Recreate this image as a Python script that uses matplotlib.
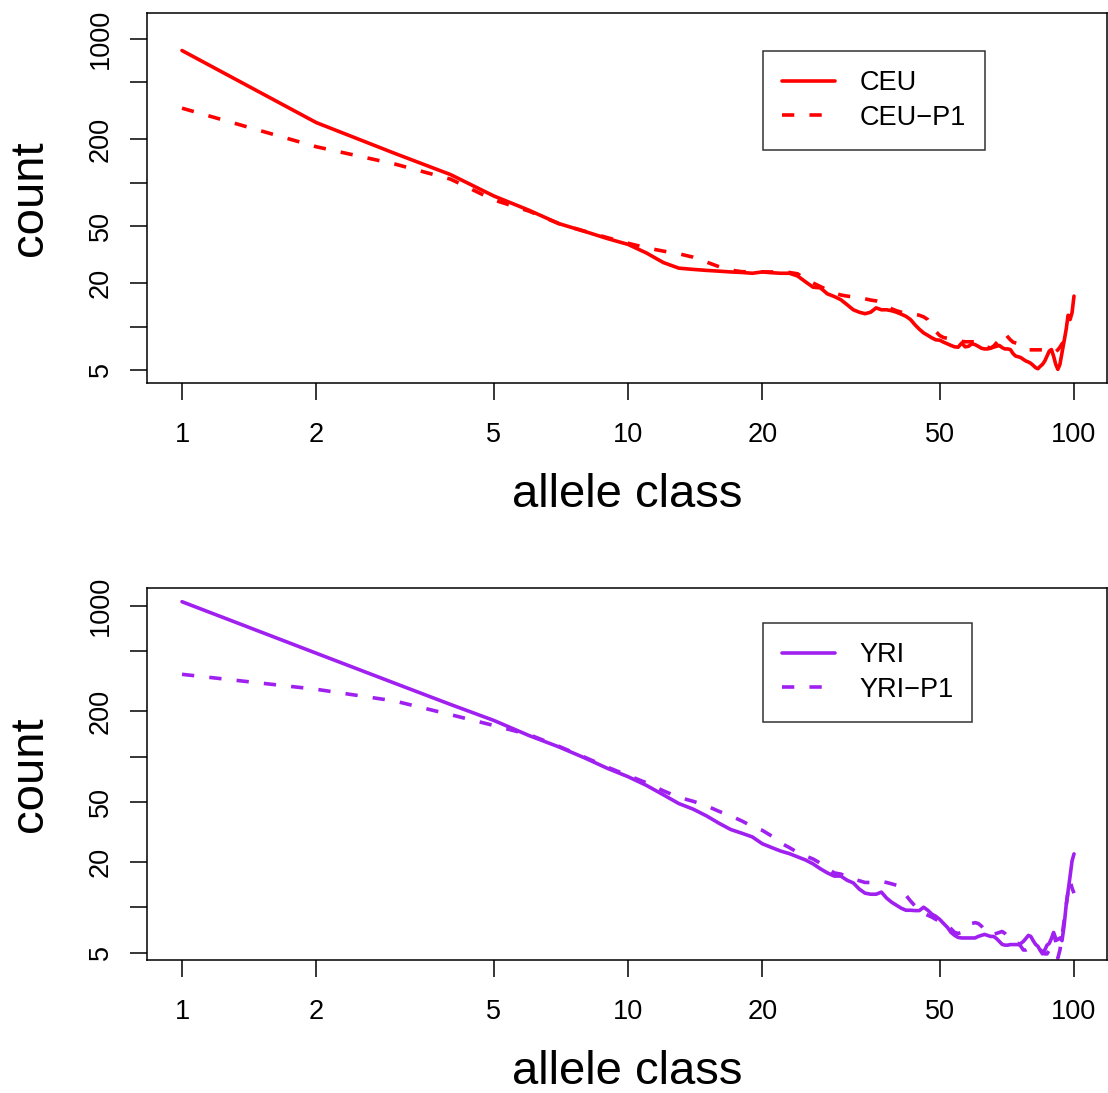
import numpy as np
import matplotlib
matplotlib.use("Agg")
import matplotlib.pyplot as plt

plt.rcParams['font.family'] = ['Liberation Sans', 'DejaVu Sans']

# allele classes 1..100
allele = np.arange(1, 101)

ceu = [830, 262, 160, 114, 81, 64.4, 52, 45.9, 40.9, 37.3,
       32.5, 27.9, 25.5, 25.0, 24.6, 24.3, 24.0, 23.8, 23.5, 24.0,
       23.7, 23.5, 23.5, 22.5, 20.5, 18.8, 18.6, 16.9, 16.2, 15.4,
       14.2, 13.1, 12.6, 12.3, 12.6, 13.5, 13.1, 13.1, 12.9, 12.6,
       12.2, 11.8, 11.2, 10.3, 9.6, 9.05, 8.7, 8.36, 8.1, 8.05,
       7.8, 7.6, 7.4, 7.24, 7.2, 7.7, 7.24, 7.3, 7.6, 7.5,
       7.3, 7.08, 7.0, 7.0, 7.08, 7.2, 7.3, 7.4, 7.15, 7.0,
       7.0, 6.93, 6.5, 6.24, 6.18, 6.09, 5.92, 5.77, 5.68, 5.56,
       5.38, 5.19, 5.1, 5.3, 5.47, 5.77, 6.24, 6.76, 6.93, 6.24,
       5.47, 5.05, 5.47, 6.6, 7.9, 9.5, 12.0, 11.2, 12.5, 16.3]

ceu_p1 = [330, 178, 135, 106, 76, 63.5, 52, 46, 41.5, 38,
          35.3, 33.5, 32.1, 30.4, 28.1, 26.1, 24.7, 24.1, 24.0, 24.0,
          24.0, 24.0, 23.8, 23.3, 21.4, 20.1, 19.0, 18.0, 17.1, 16.6,
          16.3, 16.1, 15.8, 15.6, 15.3, 15.1, 14.7, 14.0, 13.3, 12.9,
          12.6, 12.4, 12.4, 12.2, 12.0, 11.7, 11.2, 10.0, 9.26, 8.67,
          8.4, 8.3, 8.1, 8.1, 8.0, 7.9, 7.85, 7.85, 7.85, 7.85,
          7.85, 7.6, 7.3, 7.2, 7.1, 7.3, 7.7, 8.1, 8.7, 9.0,
          8.5, 8.1, 7.8, 7.7, 7.6, 7.4, 7.2, 7.0, 6.9, 6.9,
          6.9, 6.9, 6.9, 6.9, 6.9, 6.9, 6.9, 6.8, 6.7, 6.6,
          6.7, 6.9, 7.2, 7.6, 7.85, 8.0, 7.85, 8.0, 7.7, 7.85]

yri = [1068, 486, 307, 222, 174, 138, 116, 98, 83.5, 73.6,
       64.4, 55.8, 48.8, 44.8, 40.4, 36.1, 32.8, 31.0, 29.3, 26.4,
       24.9, 23.6, 22.7, 21.6, 20.6, 19.4, 18.0, 16.9, 16.1, 16.1,
       15.1, 14.5, 13.2, 12.4, 12.2, 12.2, 12.6, 11.5, 10.8, 10.3,
       9.85, 9.55, 9.55, 9.5, 9.5, 10.0, 9.55, 9.0, 8.7, 8.3,
       7.8, 7.36, 6.8, 6.5, 6.3, 6.25, 6.25, 6.25, 6.25, 6.25,
       6.4, 6.5, 6.6, 6.5, 6.4, 6.4, 6.2, 5.93, 5.67, 5.6,
       5.6, 5.65, 5.65, 5.65, 5.65, 5.75, 5.93, 6.2, 6.5, 6.4,
       6.0, 5.67, 5.5, 5.17, 4.9, 5.2, 5.6, 5.75, 6.2, 6.8,
       6.2, 6.1, 6.25, 6.0, 7.5, 10.2, 12.8, 16.1, 20.3, 22.6]

yri_p1 = [352, 280, 234, 190, 161, 140, 117, 99, 85, 75,
          67, 59.3, 53.7, 50.5, 47.1, 43.3, 40.4, 37.4, 34.4, 32.4,
          29.7, 26.7, 24.9, 23.1, 21.9, 20.9, 19.6, 18.2, 16.9, 16.6,
          16.0, 15.4, 15.0, 14.6, 14.6, 14.6, 14.8, 14.6, 14.3, 14.0,
          13.2, 12.0, 11.0, 10.2, 9.55, 9.1, 8.85, 8.6, 8.3, 8.1,
          7.7, 7.5, 7.2, 6.8, 6.7, 6.8, 7.1, 7.4, 7.8, 7.9,
          7.8, 7.5, 7.1, 6.7, 6.6, 6.6, 6.7, 6.8, 6.9, 6.7,
          6.4, 6.2, 6.0, 5.8, 5.75, 5.5, 5.2, 5.2, 5.3, 5.4,
          5.5, 5.5, 5.4, 5.2, 5.1, 4.9, 4.9, 5.2, 5.93, 6.7,
          5.9, 4.6, 5.2, 6.4, 8.1, 10.2, 12.8, 15.0, 13.4, 12.4]

xticks = [1, 2, 5, 10, 20, 50, 100]
yticks = [5, 10, 20, 50, 100, 200, 500, 1000]
ylabs = ["5", "", "20", "50", "", "200", "", "1000"]

RED = "#FF0000"
PURPLE = "#A020F0"

fig = plt.figure(figsize=(11.08, 10.93), dpi=100)
ax1 = fig.add_axes([147/1108, 1-383/1093, 960/1108, 370/1093])
ax2 = fig.add_axes([147/1108, 1-960/1093, 960/1108, 372/1093])

panels = [
    (ax1, ceu, ceu_p1, RED, ["CEU", "CEU\u2212P1"], (10**3.180, 10**0.6083), 0.897),
    (ax2, yri, yri_p1, PURPLE, ["YRI", "YRI\u2212P1"], (10**3.1197, 10**0.6496), 0.905),
]

for ax, s1, s2, col, labs, (ytop, ybot), legy in panels:
    ax.plot(allele, s1, color=col, lw=2.6, solid_capstyle='round',
            solid_joinstyle='round', label=labs[0])
    ax.plot(allele, s2, color=col, lw=2.6, dashes=(3.4, 4.2), dash_capstyle='butt',
            dash_joinstyle='round', label=labs[1])
    ax.set_xscale('log')
    ax.set_yscale('log')
    ax.set_xlim(10**-0.0785, 10**2.074)
    ax.set_ylim(ybot, ytop)
    ax.xaxis.set_major_locator(matplotlib.ticker.FixedLocator(xticks))
    ax.xaxis.set_minor_locator(matplotlib.ticker.NullLocator())
    ax.set_xticklabels([str(t) for t in xticks])
    ax.yaxis.set_major_locator(matplotlib.ticker.FixedLocator(yticks))
    ax.yaxis.set_minor_locator(matplotlib.ticker.NullLocator())
    ax.set_yticklabels(ylabs)
    ax.tick_params(axis='both', length=12, width=1.1, labelsize=19.5, direction='out')
    ax.tick_params(axis='x', pad=16)
    ax.tick_params(axis='y', pad=12)
    for lab in ax.get_yticklabels():
        lab.set_rotation(90)
        lab.set_va('center')
        lab.set_ha('right')
    for sp in ax.spines.values():
        sp.set_linewidth(1.1)
    ax.set_xlabel("allele class", fontsize=34, labelpad=18)
    ax.set_ylabel("count", fontsize=34, labelpad=26)
    leg = ax.legend(loc='upper left', bbox_to_anchor=(0.6417, legy),
                    fontsize=19.5, frameon=True, fancybox=False, borderpad=0.7,
                    labelspacing=0.32, handlelength=1.95, handletextpad=0.9,
                    borderaxespad=0)
    leg.get_frame().set_edgecolor('black')
    leg.get_frame().set_linewidth(1.1)

plt.savefig("out.png", dpi=100)
